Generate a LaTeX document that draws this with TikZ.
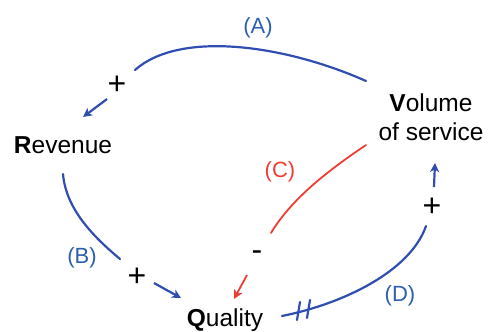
\documentclass[tikz,border=0pt]{standalone}
\usepackage{fontspec}
\setmainfont{Liberation Sans}
\usetikzlibrary{arrows.meta}
\definecolor{cblue}{RGB}{48,78,178}
\definecolor{lblue}{RGB}{45,95,175}
\definecolor{cred}{RGB}{238,62,52}
\begin{document}
\begin{tikzpicture}[x=1pt,y=-1pt,
  var/.style={inner sep=0pt,font=\fontsize{24.5}{29}\selectfont,align=center},
  loopl/.style={inner sep=0pt,font=\fontsize{22}{26}\selectfont},
  sign/.style={inner sep=0pt,font=\fontsize{32}{32}\selectfont},
  link/.style={line width=2.2pt,line cap=round},
  tip/.style={line width=2.2pt,-{Stealth[length=9pt,width=9pt,inset=2.5pt]}}]
\useasboundingbox (0,0) rectangle (488,332);
% variables
\node[var] (rev) at (63,145) {\textbf{R}evenue};
\node[var] (vol) at (431,117) {\textbf{V}olume\\of service};
\node[var] (qual) at (225,320) {\textbf{Q}uality};
% loop labels
\node[loopl,text=lblue] (la) at (258,28) {(A)};
\node[loopl,text=lblue] (lb) at (82,258) {(B)};
\node[loopl,text=cred] (lc) at (280,172) {(C)};
\node[loopl,text=lblue] (ld) at (400,296) {(D)};
% signs
\node[sign] (sa) at (117,85) {+};
\node[sign] (sb) at (137,277) {+};
\node[sign] (sd) at (432,207) {+};
\node[sign] (sc) at (257,256) {-};
% connector end points
\coordinate (a1) at (366,81);
\coordinate (a2) at (135,70);
\coordinate (a3) at (107,99);
\coordinate (a4) at (83,117);
\coordinate (b1) at (63,174);
\coordinate (b2) at (120,259);
\coordinate (b3) at (154,283);
\coordinate (b4) at (181,298);
\coordinate (c1) at (366,145);
\coordinate (c2) at (271,233);
\coordinate (c3) at (247,275);
\coordinate (c4) at (234,299);
\coordinate (d1) at (282,316);
\coordinate (d2) at (426,226);
\coordinate (d3) at (434,187);
\coordinate (d4) at (435,163);
% (A) Volume -> Revenue
\draw[link,cblue] (a1) .. controls (285,45) and (180,30) .. (a2);
\draw[tip,cblue] (a3) -- (a4);
% (B) Revenue -> Quality
\draw[link,cblue] (b1) .. controls (66,210) and (95,238) .. (b2);
\draw[tip,cblue] (b3) -- (b4);
% (C) Volume -> Quality
\draw[link,cred,line width=1.8pt] (c1) .. controls (335,166) and (293,196) .. (c2);
\draw[tip,cred,line width=1.8pt] (c3) -- (c4);
% (D) Quality -> Volume
\draw[link,cblue] (d1) .. controls (342,304) and (410,272) .. (d2);
\draw[tip,cblue] (d3) -- (d4);
\draw[link,cblue] (297,320) -- (300,302);
\draw[link,cblue] (307,318) -- (310,300);
\end{tikzpicture}
\end{document}
